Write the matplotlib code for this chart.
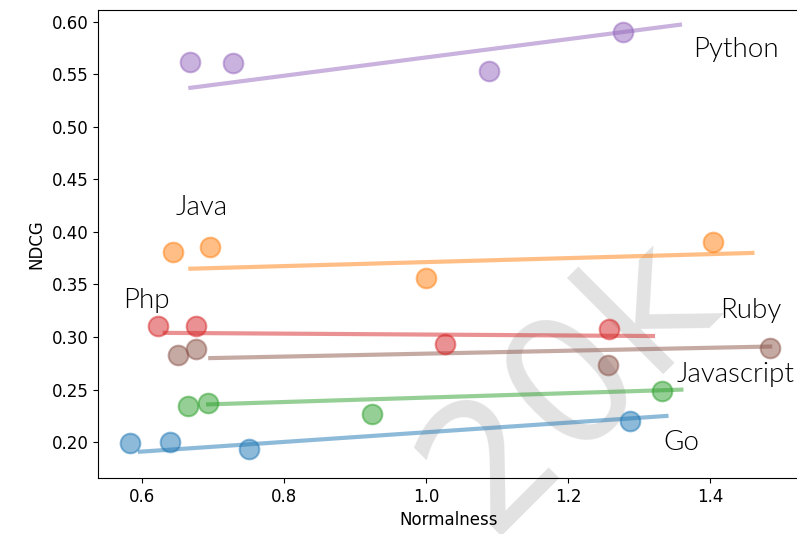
import numpy as np
import matplotlib.pyplot as plt

# normalness (x) / NDCG (y) per language
languages = ['Go', 'Javascript', 'Php', 'Ruby', 'Java', 'Python']
colors = ['tab:blue', 'tab:green', 'tab:red', 'tab:brown', 'tab:orange', 'tab:purple']

go_x = [0.583, 0.640, 0.751, 1.287]
go_y = [0.199, 0.200, 0.194, 0.220]
js_x = [0.665, 0.693, 0.923, 1.332]
js_y = [0.234, 0.237, 0.227, 0.249]
php_x = [0.623, 0.676, 1.026, 1.257]
php_y = [0.311, 0.311, 0.293, 0.308]
ruby_x = [0.651, 0.676, 1.256, 1.484]
ruby_y = [0.283, 0.289, 0.273, 0.290]
java_x = [0.644, 0.695, 0.999, 1.404]
java_y = [0.381, 0.386, 0.356, 0.390]
python_x = [0.668, 0.728, 1.088, 1.277]
python_y = [0.562, 0.561, 0.553, 0.590]

# fitted trend lines: (x start, x end), (y start, y end)
go_fit = [(0.597, 1.338), (0.191, 0.225)]
js_fit = [(0.693, 1.359), (0.236, 0.250)]
php_fit = [(0.632, 1.319), (0.304, 0.301)]
ruby_fit = [(0.696, 1.484), (0.280, 0.291)]
java_fit = [(0.668, 1.459), (0.365, 0.380)]
python_fit = [(0.668, 1.357), (0.537, 0.597)]

xs = [go_x, js_x, php_x, ruby_x, java_x, python_x]
ys = [go_y, js_y, php_y, ruby_y, java_y, python_y]
fits = [go_fit, js_fit, php_fit, ruby_fit, java_fit, python_fit]

# where the language names sit
label_pos = {'Go': (1.333, 0.200), 'Javascript': (1.352, 0.264), 'Php': (0.573, 0.335),
             'Ruby': (1.414, 0.325), 'Java': (0.647, 0.423), 'Python': (1.376, 0.573)}

fig = plt.figure(figsize=(7.97, 5.34), dpi=100)
ax = fig.add_axes([98 / 797, 1 - 478 / 534, 1.002 - 98 / 797, 468 / 534])

ax.text(570 / 797, 1 - 385 / 534, '20k', transform=fig.transFigure, fontsize=128,
        rotation=45, color='#e2e2e2', ha='center', va='center', zorder=0, clip_on=False)

for lang, c, x, y, fit in zip(languages, colors, xs, ys, fits):
    ax.scatter(x, y, s=200, color=c, alpha=0.5, linewidths=1.5, zorder=3)
    ax.plot(fit[0], fit[1], color=c, alpha=0.5, linewidth=3, zorder=2)
    ax.text(label_pos[lang][0], label_pos[lang][1], lang, fontsize=20, ha='left', va='center',
            family=['Lato', 'DejaVu Sans'], fontweight=300)

ax.set_xlim(0.538, 1.524)
ax.set_ylim(0.166, 0.611)
ax.set_xticks([0.6, 0.8, 1.0, 1.2, 1.4])
ax.set_yticks(np.arange(0.20, 0.601, 0.05))
ax.tick_params(labelsize=12)
ax.set_xlabel('Normalness', fontsize=12)
ax.set_ylabel('NDCG', fontsize=12)

fig.savefig('out.png', dpi=100)
